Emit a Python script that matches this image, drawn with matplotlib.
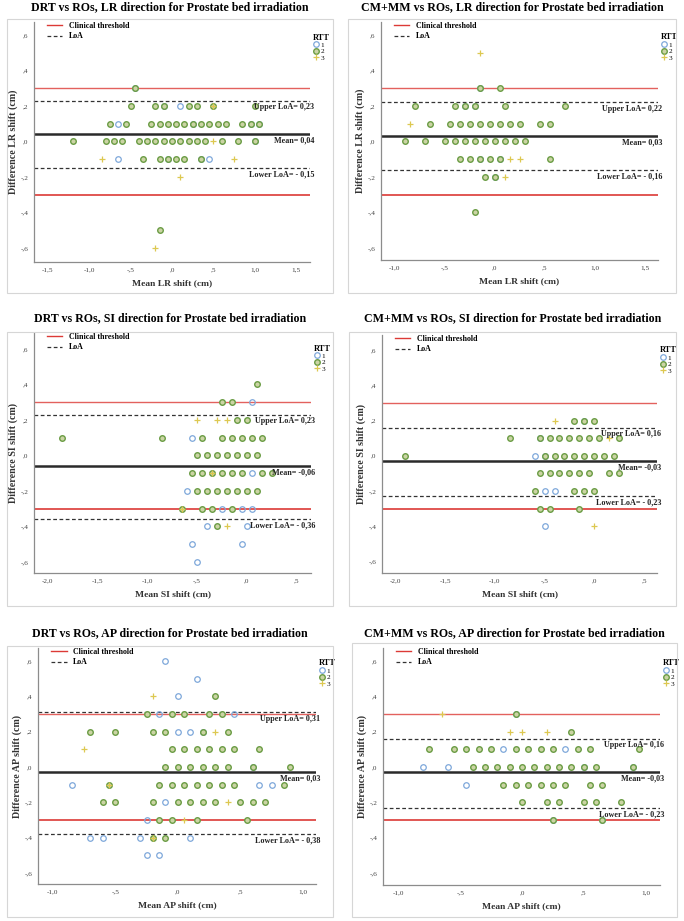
import matplotlib
matplotlib.use("Agg")
import matplotlib.pyplot as plt
from matplotlib.patches import Rectangle
from matplotlib.lines import Line2D
from matplotlib.ticker import MultipleLocator, FuncFormatter

plt.rcParams["font.family"] = ["Liberation Serif", "DejaVu Serif"]

# ── data: difference value -> list of mean shifts, per RTT ───────────────
DRT_LR_R1 = {0.3: [-0.45], 0.2: [-0.1, 0.1], 0.1: [-0.65, 0.25, 0.95, 1.05],
             0.0: [1.0], -0.1: [-0.65, -0.05, 0.35, 0.45]}
DRT_LR_R2 = {0.3: [-0.45],
             0.2: [-0.5, -0.2, -0.1, 0.2, 0.3, 0.5, 1.0],
             0.1: [-0.75, -0.55, -0.25, -0.15, -0.05, 0.05, 0.15, 0.25, 0.35,
                   0.45, 0.55, 0.65, 0.85, 0.95, 1.05],
             0.0: [-1.2, -0.8, -0.7, -0.6, -0.4, -0.3, -0.2, -0.1, 0.0, 0.1,
                   0.2, 0.3, 0.4, 0.6, 0.8, 1.0],
             -0.1: [-0.35, -0.15, -0.05, 0.05, 0.15, 0.35],
             -0.5: [-0.15]}
DRT_LR_R3 = {0.2: [0.5], 0.0: [0.5], -0.1: [-0.85, 0.75], -0.2: [0.1], -0.6: [-0.2]}

CM_LR_R1 = {0.3: [-0.15], 0.2: [-0.3, -0.2], -0.1: [-0.15, 0.05], -0.2: [0.0]}
CM_LR_R2 = {0.3: [-0.15, 0.05],
            0.2: [-0.8, -0.4, -0.3, -0.2, 0.1, 0.7],
            0.1: [-0.65, -0.45, -0.35, -0.25, -0.15, -0.05, 0.05, 0.15, 0.25, 0.45, 0.55],
            0.0: [-0.9, -0.7, -0.5, -0.4, -0.3, -0.2, -0.1, 0.0, 0.1, 0.2, 0.3],
            -0.1: [-0.35, -0.25, -0.15, -0.05, 0.05, 0.55],
            -0.2: [-0.1, 0.0],
            -0.4: [-0.2]}
CM_LR_R3 = {0.5: [-0.15], 0.1: [-0.85], -0.1: [0.15, 0.25], -0.2: [0.1]}

DRT_SI_R1 = {0.3: [0.05], 0.1: [-0.55], -0.1: [0.05], -0.2: [-0.6],
             -0.3: [-0.25, -0.05, 0.05], -0.4: [-0.4, 0.0], -0.5: [-0.55, -0.05],
             -0.6: [-0.5]}
DRT_SI_R2 = {0.4: [0.1], 0.3: [-0.25, -0.15], 0.2: [-0.1, 0.0],
             0.1: [-1.85, -0.85, -0.45, -0.25, -0.15, -0.05, 0.05, 0.15],
             0.0: [-0.5, -0.4, -0.3, -0.2, -0.1, 0.0, 0.1],
             -0.1: [-0.55, -0.45, -0.35, -0.25, -0.15, -0.05, 0.15, 0.25],
             -0.2: [-0.5, -0.4, -0.3, -0.2, -0.1, 0.0, 0.1],
             -0.3: [-0.65, -0.45, -0.35, -0.15],
             -0.4: [-0.3]}
DRT_SI_R3 = {0.2: [-0.5, -0.3, -0.2], -0.1: [-0.35], -0.3: [-0.65], -0.4: [-0.2]}

CM_SI_R1 = {0.2: [-0.1], 0.1: [-0.55], 0.0: [-0.6, -0.5], -0.2: [-0.5, -0.4], -0.4: [-0.5]}
CM_SI_R2 = {0.2: [-0.2, -0.1, 0.0],
            0.1: [-0.85, -0.55, -0.45, -0.35, -0.25, -0.15, -0.05, 0.05, 0.25],
            0.0: [-1.9, -0.5, -0.4, -0.3, -0.2, -0.1, 0.0, 0.1, 0.2],
            -0.1: [-0.55, -0.45, -0.35, -0.25, -0.15, -0.05, 0.15, 0.25],
            -0.2: [-0.6, -0.2, -0.1, 0.0],
            -0.3: [-0.55, -0.45, -0.15]}
CM_SI_R3 = {0.2: [-0.4], 0.1: [0.15], -0.4: [0.0]}

DRT_AP_R1 = {0.6: [-0.1], 0.5: [0.15], 0.4: [0.0], 0.3: [-0.15, 0.45],
             0.2: [0.0, 0.1, 0.2], 0.0: [0.6], -0.1: [-0.85, 0.65, 0.75],
             -0.2: [-0.1], -0.3: [-0.25], -0.4: [-0.7, -0.6, -0.3, 0.1],
             -0.5: [-0.25, -0.15]}
DRT_AP_R2 = {0.4: [0.3],
             0.3: [-0.25, -0.05, 0.05, 0.25, 0.35],
             0.2: [-0.7, -0.5, -0.2, -0.1, 0.2, 0.4],
             0.1: [-0.05, 0.05, 0.15, 0.25, 0.35, 0.45, 0.65],
             0.0: [-0.1, 0.0, 0.1, 0.2, 0.3, 0.4, 0.6, 0.9],
             -0.1: [-0.55, -0.15, -0.05, 0.05, 0.15, 0.25, 0.35, 0.45, 0.85],
             -0.2: [-0.6, -0.5, -0.2, 0.0, 0.1, 0.2, 0.3, 0.5, 0.6, 0.7],
             -0.3: [-0.15, -0.05, 0.15, 0.55],
             -0.4: [-0.2, -0.1]}
DRT_AP_R3 = {0.4: [-0.2], 0.2: [0.3], 0.1: [-0.75], -0.1: [-0.55], -0.2: [0.4],
             -0.3: [0.05], -0.4: [-0.2]}

CM_AP_R1 = {0.3: [-0.05], 0.1: [-0.15, 0.35], 0.0: [-0.8, -0.6, 0.5, 0.9],
            -0.1: [-0.45], -0.3: [0.25, 0.65]}
CM_AP_R2 = {0.3: [-0.05], 0.2: [0.4],
            0.1: [-0.75, -0.55, -0.45, -0.35, -0.25, -0.05, 0.05, 0.15, 0.25, 0.45, 0.55, 0.95],
            0.0: [-0.4, -0.3, -0.2, -0.1, 0.0, 0.1, 0.2, 0.3, 0.4, 0.5, 0.6, 0.9],
            -0.1: [-0.15, -0.05, 0.05, 0.15, 0.25, 0.35, 0.55, 0.65],
            -0.2: [0.0, 0.2, 0.3, 0.5, 0.6, 0.8],
            -0.3: [0.25, 0.65]}
CM_AP_R3 = {0.3: [-0.65], 0.2: [-0.1, 0.0, 0.2]}

# mean / upper LoA / lower LoA lines and their printed labels
STATS = {
    "DRT_LR": ((0.04, 0.23, -0.15), ("0,04", "0,23", "- 0,15")),
    "CM_LR":  ((0.03, 0.22, -0.16), ("0,03", "0,22", "- 0,16")),
    "DRT_SI": ((-0.06, 0.23, -0.36), ("-0,06", "0,23", "- 0,36")),
    "CM_SI":  ((-0.03, 0.16, -0.23), ("-0,03", "0,16", "- 0,23")),
    "DRT_AP": ((-0.03, 0.31, -0.38), ("0,03", "0,31", "- 0,38")),
    "CM_AP":  ((-0.03, 0.16, -0.23), ("-0,03", "0,16", "- 0,23")),
}
THRESHOLD = 0.3
RTT_LABELS = ["1", "2", "3"]

# ── layout (pixels: left, top, right, bottom) ────────────────────────────
W, H = 684, 921
PANELS = [
    dict(key="DRT_LR", data=(DRT_LR_R1, DRT_LR_R2, DRT_LR_R3), dirn="LR",
         title="DRT vs ROs, LR direction for Prostate bed irradiation",
         ax=(34, 22, 310, 262), frame=(7, 19, 333, 293), ty=7,
         xlim=(-1.665, 1.665), ylim=(-0.679, 0.673)),
    dict(key="CM_LR", data=(CM_LR_R1, CM_LR_R2, CM_LR_R3), dirn="LR",
         title="CM+MM vs ROs, LR direction for Prostate bed irradiation",
         ax=(381, 22, 658, 260), frame=(348, 19, 676, 293), ty=7,
         xlim=(-1.137, 1.633), ylim=(-0.668, 0.673)),
    dict(key="DRT_SI", data=(DRT_SI_R1, DRT_SI_R2, DRT_SI_R3), dirn="SI",
         title="DRT vs ROs, SI direction for Prostate bed irradiation",
         ax=(34, 333, 311, 573), frame=(7, 332, 333, 606), ty=318,
         xlim=(-2.133, 0.645), ylim=(-0.662, 0.69)),
    dict(key="CM_SI", data=(CM_SI_R1, CM_SI_R2, CM_SI_R3), dirn="SI",
         title="CM+MM vs ROs, SI direction for Prostate bed irradiation",
         ax=(382, 335, 657, 573), frame=(349, 332, 676, 606), ty=318,
         xlim=(-2.134, 0.63), ylim=(-0.665, 0.685)),
    dict(key="DRT_AP", data=(DRT_AP_R1, DRT_AP_R2, DRT_AP_R3), dirn="AP",
         title="DRT vs ROs, AP direction for Prostate bed irradiation",
         ax=(38, 648, 316, 884), frame=(7, 646, 333, 917), ty=633,
         xlim=(-1.118, 1.106), ylim=(-0.662, 0.673)),
    dict(key="CM_AP", data=(CM_AP_R1, CM_AP_R2, CM_AP_R3), dirn="AP",
         title="CM+MM vs ROs, AP direction for Prostate bed irradiation",
         ax=(383, 648, 660, 885), frame=(352, 643, 677, 917), ty=633,
         xlim=(-1.126, 1.118), ylim=(-0.668, 0.673)),
]

RTT_STYLE = [
    dict(marker="o", mfc="none", mec="#7ea8da", ms=4.0, mew=0.9, ls="none"),
    dict(marker="o", mfc="#cbd4a4", mec="#6a9c44", ms=4.0, mew=1.0, ls="none"),
    dict(marker="+", mfc="none", mec="#ddc851", ms=4.6, mew=0.9, ls="none"),
]
RED = "#dc3a36"


def spss_fmt(v, pos=None):
    s = f"{v:.1f}".replace(".", ",")
    if s in ("-0,0", "0,0"):
        return ",0"
    if s.startswith("-0,"):
        return "-" + s[2:]
    if s.startswith("0,"):
        return s[1:]
    return s


def expand(rows):
    xs, ys = [], []
    for d, means in rows.items():
        for m in means:
            xs.append(m)
            ys.append(d)
    return xs, ys


fig = plt.figure(figsize=(W / 100, H / 100), dpi=100)

for p in PANELS:
    l, t, r, b = p["frame"]
    fig.add_artist(Rectangle((l / W, 1 - b / H), (r - l) / W, (b - t) / H,
                             transform=fig.transFigure, fill=False,
                             edgecolor="#d6d6d6", lw=0.8))
    fig.text((l + r) / 2 / W, 1 - p["ty"] / H, p["title"], ha="center", va="center",
             fontsize=8.6, fontweight="bold")

    l, t, r, b = p["ax"]
    ax = fig.add_axes([l / W, 1 - b / H, (r - l) / W, (b - t) / H])
    ax.set_xlim(p["xlim"])
    ax.set_ylim(p["ylim"])

    (mean, upper, lower), (lm, lu, ll) = STATS[p["key"]]

    # reference lines
    ax.axhline(THRESHOLD, color=RED, lw=1.0, alpha=0.8, zorder=1)
    ax.axhline(-THRESHOLD, color=RED, lw=1.2, zorder=1)
    ax.axhline(upper, color="#333333", lw=0.9, ls=(0, (3, 2)), zorder=1)
    ax.axhline(lower, color="#333333", lw=0.9, ls=(0, (3, 2)), zorder=1)
    ax.axhline(mean, color="#2a2a2a", lw=1.8, zorder=1)

    for rows, st in zip(p["data"], RTT_STYLE):
        xs, ys = expand(rows)
        ax.plot(xs, ys, zorder=3, **st)

    tk = dict(transform=ax.get_yaxis_transform(), ha="right", va="top",
              fontsize=5.9, fontweight="bold", color="#222222")
    ax.text(1.015, upper - 0.014, f"Upper LoA= {lu}", **tk)
    ax.text(1.015, mean - 0.014, f"Mean= {lm}", **tk)
    ax.text(1.015, lower - 0.014, f"Lower LoA= {ll}", **tk)

    # axes styling
    for s in ("top", "right"):
        ax.spines[s].set_visible(False)
    for s in ("left", "bottom"):
        ax.spines[s].set_color("#8c8c8c")
        ax.spines[s].set_linewidth(0.9)
    ax.xaxis.set_major_locator(MultipleLocator(0.5))
    ax.yaxis.set_major_locator(MultipleLocator(0.2))
    ax.xaxis.set_major_formatter(FuncFormatter(spss_fmt))
    ax.yaxis.set_major_formatter(FuncFormatter(spss_fmt))
    ax.tick_params(length=0, labelsize=5.2, labelcolor="#444444", pad=4)
    ax.set_xlabel(f"Mean {p['dirn']} shift (cm)", fontsize=6.8, fontweight="bold",
                  color="#333333", labelpad=5)
    ax.set_ylabel(f"Difference {p['dirn']} shift (cm)", fontsize=7.2, fontweight="bold",
                  color="#333333", labelpad=2)

    # line legend (top left, inside)
    h1 = [Line2D([], [], color=RED, lw=1.0),
          Line2D([], [], color="#333333", lw=0.9, ls=(0, (3, 2)))]
    leg1 = ax.legend(h1, ["Clinical threshold", "LoA"], loc="upper left",
                     bbox_to_anchor=(0.02, 1.03), frameon=False, handlelength=2.0,
                     handletextpad=0.8, labelspacing=0.3,
                     prop=dict(size=5.7, weight="bold"))
    ax.add_artist(leg1)

    # RTT marker legend (outside right)
    h2 = [Line2D([], [], **st) for st in RTT_STYLE]
    leg2 = ax.legend(h2, RTT_LABELS, title="RTT", loc="upper left",
                     bbox_to_anchor=(0.995, 0.97), frameon=False, handlelength=0.8,
                     handletextpad=0.2, labelspacing=0.05, borderpad=0.1,
                     prop=dict(size=5.2), title_fontproperties=dict(size=6, weight="bold"))
    leg2._legend_box.align = "left"

fig.savefig("out.png", dpi=100)
